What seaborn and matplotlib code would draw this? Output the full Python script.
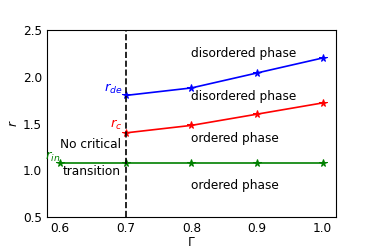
import numpy as np
import pandas as pd
import seaborn as sns
import matplotlib.pyplot as plt

gamma = [0.6, 0.7, 0.8, 0.9, 1.0]
r_de = [1.80, 1.88, 2.04, 2.20]
r_c = [1.40, 1.48, 1.60, 1.72]
r_in = [1.075, 1.075, 1.075, 1.075, 1.075]

sns.set_style("white", rc={"text.color": "black", "axes.labelcolor": "black",
                           "xtick.color": "black", "ytick.color": "black",
                           "axes.edgecolor": "black"})
plt.rcParams['font.family'] = ['DejaVu Sans']
plt.rcParams['xtick.direction'] = 'in'
plt.rcParams['ytick.direction'] = 'in'

fig, ax = plt.subplots(figsize=(3.74, 2.49), dpi=100)
fig.subplots_adjust(left=0.126, right=0.898, bottom=0.128, top=0.88)

df_de = pd.DataFrame({"g": gamma[1:], "r": r_de})
df_c = pd.DataFrame({"g": gamma[1:], "r": r_c})
df_in = pd.DataFrame({"g": gamma, "r": r_in})

sns.lineplot(data=df_de, x="g", y="r", color="blue", marker="*", markersize=5.5,
             markeredgecolor="blue", lw=1.2, ax=ax)
sns.lineplot(data=df_c, x="g", y="r", color="red", marker="*", markersize=5.5,
             markeredgecolor="red", lw=1.2, ax=ax)
sns.lineplot(data=df_in, x="g", y="r", color="green", marker="*", markersize=5.5,
             markeredgecolor="green", lw=1.2, ax=ax)
ax.axvline(0.7, color="black", ls="--", lw=1.2)

fs = 8.7
ax.text(0.8, 2.25, "disordered phase", fontsize=fs, va="center")
ax.text(0.8, 1.79, "disordered phase", fontsize=fs, va="center")
ax.text(0.8, 1.34, "ordered phase", fontsize=fs, va="center")
ax.text(0.8, 0.84, "ordered phase", fontsize=fs, va="center")
ax.text(0.6, 1.28, "No critical", fontsize=fs, va="center")
ax.text(0.604, 0.985, "transition", fontsize=fs, va="center")
ax.text(0.695, 1.87, r"$r_{de}$", color="blue", fontsize=9.5, ha="right", va="center")
ax.text(0.695, 1.48, r"$r_c$", color="red", fontsize=9.5, ha="right", va="center")
ax.text(0.6, 1.14, r"$r_{in}$", color="green", fontsize=9.5, ha="right", va="center")

ax.set_xlim(0.58, 1.02)
ax.set_ylim(0.5, 2.5)
ax.set_xticks([0.6, 0.7, 0.8, 0.9, 1.0])
ax.set_yticks([0.5, 1.0, 1.5, 2.0, 2.5])
ax.tick_params(labelsize=fs, length=3, width=0.8)
ax.set_xlabel(r"$\Gamma$", fontsize=fs, labelpad=1)
ax.set_ylabel(r"$r$", fontsize=fs, labelpad=2)
for s in ax.spines.values():
    s.set_linewidth(0.8)

fig.savefig("out.png", dpi=100)
